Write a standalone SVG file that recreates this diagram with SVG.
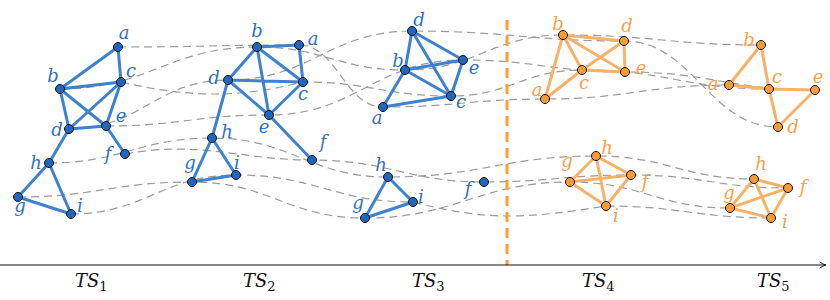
<svg xmlns="http://www.w3.org/2000/svg" width="830" height="300" viewBox="0 0 830 300">
<style>
.traj{fill:none;stroke:#9a9a9a;stroke-width:1.2;stroke-dasharray:8 5}
.be{stroke:#3d81d1;stroke-width:3;stroke-linecap:round;fill:none}
.oe{stroke:#f9b168;stroke-width:3;stroke-linecap:round;fill:none}
.bn{fill:#1f66bd;stroke:#111;stroke-width:1}
.on{fill:#f79d34;stroke:#111;stroke-width:1}
.bl{fill:#2f70c2;font-family:'DejaVu Serif',serif;font-style:italic;font-size:18px;text-anchor:middle}
.ol{fill:#f6a14a;font-family:'DejaVu Serif',serif;font-style:italic;font-size:18px;text-anchor:middle}
.ts{font-family:'DejaVu Serif',serif;font-style:italic;font-size:18px;fill:#111}
.sub{font-style:normal;font-size:13px}
</style>
<defs>
<marker id="arr" viewBox="0 0 10 10" refX="9" refY="5" markerWidth="8" markerHeight="8" orient="auto" markerUnits="userSpaceOnUse">
<path d="M1,1 Q5,4 9,5 Q5,6 1,9" fill="none" stroke="#111" stroke-width="1.2"/>
</marker>
</defs>
<g id="trajectories">
<path class="traj" d="M118,47 C199,47 218,45 299,45 C337,45 345,107 383,107 C456,107 472,99 545,99 C628,99 646,85 729,85"/>
<path class="traj" d="M60,89 C149,89 168,47 257,47 C324,47 338,70 405,70 C476,70 492,35 563,35 C652,35 672,45 761,45"/>
<path class="traj" d="M121,82 C190,98 240,98 303,82 C370,82 384,96 451,96 C510,96 523,70 582,70 C666,70 685,89 769,89"/>
<path class="traj" d="M69,129 C141,129 156,80 228,80 C311,80 329,31 412,31 C507,31 529,41 624,41 C693,41 709,127 778,127"/>
<path class="traj" d="M106,126 C179,126 196,115 269,115 C356,115 376,60 463,60 C536,60 552,72 625,72 C711,72 729,90 815,90"/>
<path class="traj" d="M125,154 C200,140 240,160 312,160 C389,160 407,182 484,182 C550,182 565,175 631,175 C702,175 717,188 788,188"/>
<path class="traj" d="M18,197 C96,197 114,182 192,182 C270,182 287,218 365,218 C457,218 478,182 570,182 C642,182 658,208 730,208"/>
<path class="traj" d="M49,163 C122,163 139,138 212,138 C291,138 309,177 388,177 C482,177 502,156 596,156 C667,156 683,179 754,179"/>
<path class="traj" d="M71,214 C145,214 162,175 236,175 C316,175 333,202 413,202 C490,222 530,218 606,206 C680,206 697,218 771,218"/>
</g>
<g id="edges">
<path class="be" d="M118,47 L60,89 M118,47 L121,82 M60,89 L121,82 M60,89 L69,129 M60,89 L106,126 M121,82 L69,129 M121,82 L106,126 M69,129 L106,126 M106,126 L125,154 M69,129 L49,163 M49,163 L18,197 M49,163 L71,214 M18,197 L71,214"/>
<path class="be" d="M257,47 L299,45 M299,45 L303,82 M257,47 L303,82 M257,47 L228,80 M257,47 L269,115 M228,80 L303,82 M228,80 L269,115 M303,82 L269,115 M269,115 L312,160 M228,80 L212,138 M212,138 L192,182 M212,138 L236,175 M192,182 L236,175"/>
<path class="be" d="M412,31 L405,70 M412,31 L463,60 M412,31 L451,96 M405,70 L463,60 M405,70 L451,96 M405,70 L383,107 M383,107 L451,96 M463,60 L451,96 M388,177 L413,202 M388,177 L365,218 M365,218 L413,202"/>
<path class="oe" d="M563,35 L624,41 M563,35 L582,70 M563,35 L625,72 M563,35 L545,99 M624,41 L582,70 M624,41 L625,72 M582,70 L625,72 M545,99 L582,70 M596,156 L570,182 M596,156 L631,175 M596,156 L606,206 M570,182 L631,175 M570,182 L606,206 M631,175 L606,206"/>
<path class="oe" d="M761,45 L729,85 M761,45 L769,89 M729,85 L769,89 M769,89 L778,127 M769,89 L815,90 M778,127 L815,90 M754,179 L730,208 M754,179 L788,188 M754,179 L771,218 M730,208 L788,188 M730,208 L771,218 M788,188 L771,218"/>
</g>
<g id="divider">
<line x1="507" y1="20" x2="507" y2="265" stroke="#f7a035" stroke-width="3" stroke-dasharray="10 6"/>
</g>
<g id="axis">
<line x1="0" y1="265" x2="826" y2="265" stroke="#111" stroke-width="1" marker-end="url(#arr)"/>
<text class="ts" x="75" y="287">TS<tspan class="sub" dy="4">1</tspan></text>
<text class="ts" x="243" y="287">TS<tspan class="sub" dy="4">2</tspan></text>
<text class="ts" x="412" y="287">TS<tspan class="sub" dy="4">3</tspan></text>
<text class="ts" x="582" y="287">TS<tspan class="sub" dy="4">4</tspan></text>
<text class="ts" x="757" y="287">TS<tspan class="sub" dy="4">5</tspan></text>
</g>
<g id="ts1-a"><circle class="bn" cx="118" cy="47" r="4.5"/><text class="bl" x="124" y="39">a</text></g>
<g id="ts1-b"><circle class="bn" cx="60" cy="89" r="4.5"/><text class="bl" x="53" y="82">b</text></g>
<g id="ts1-c"><circle class="bn" cx="121" cy="82" r="4.5"/><text class="bl" x="131" y="77">c</text></g>
<g id="ts1-d"><circle class="bn" cx="69" cy="129" r="4.5"/><text class="bl" x="57" y="136">d</text></g>
<g id="ts1-e"><circle class="bn" cx="106" cy="126" r="4.5"/><text class="bl" x="121" y="122">e</text></g>
<g id="ts1-f"><circle class="bn" cx="125" cy="154" r="4.5"/><text class="bl" x="108" y="160">f</text></g>
<g id="ts1-g"><circle class="bn" cx="18" cy="197" r="4.5"/><text class="bl" x="20" y="212">g</text></g>
<g id="ts1-h"><circle class="bn" cx="49" cy="163" r="4.5"/><text class="bl" x="36" y="169">h</text></g>
<g id="ts1-i"><circle class="bn" cx="71" cy="214" r="4.5"/><text class="bl" x="80" y="212">i</text></g>
<g id="ts2-a"><circle class="bn" cx="299" cy="45" r="4.5"/><text class="bl" x="313" y="45">a</text></g>
<g id="ts2-b"><circle class="bn" cx="257" cy="47" r="4.5"/><text class="bl" x="257" y="37">b</text></g>
<g id="ts2-c"><circle class="bn" cx="303" cy="82" r="4.5"/><text class="bl" x="303" y="100">c</text></g>
<g id="ts2-d"><circle class="bn" cx="228" cy="80" r="4.5"/><text class="bl" x="214" y="84">d</text></g>
<g id="ts2-e"><circle class="bn" cx="269" cy="115" r="4.5"/><text class="bl" x="264" y="133">e</text></g>
<g id="ts2-f"><circle class="bn" cx="312" cy="160" r="4.5"/><text class="bl" x="323" y="148">f</text></g>
<g id="ts2-g"><circle class="bn" cx="192" cy="182" r="4.5"/><text class="bl" x="190" y="169">g</text></g>
<g id="ts2-h"><circle class="bn" cx="212" cy="138" r="4.5"/><text class="bl" x="227" y="138">h</text></g>
<g id="ts2-i"><circle class="bn" cx="236" cy="175" r="4.5"/><text class="bl" x="237" y="169">i</text></g>
<g id="ts3-a"><circle class="bn" cx="383" cy="107" r="4.5"/><text class="bl" x="377" y="124">a</text></g>
<g id="ts3-b"><circle class="bn" cx="405" cy="70" r="4.5"/><text class="bl" x="398" y="67">b</text></g>
<g id="ts3-c"><circle class="bn" cx="451" cy="96" r="4.5"/><text class="bl" x="461" y="108">c</text></g>
<g id="ts3-d"><circle class="bn" cx="412" cy="31" r="4.5"/><text class="bl" x="419" y="26">d</text></g>
<g id="ts3-e"><circle class="bn" cx="463" cy="60" r="4.5"/><text class="bl" x="474" y="74">e</text></g>
<g id="ts3-f"><circle class="bn" cx="484" cy="182" r="4.5"/><text class="bl" x="468" y="195">f</text></g>
<g id="ts3-g"><circle class="bn" cx="365" cy="218" r="4.5"/><text class="bl" x="358" y="209">g</text></g>
<g id="ts3-h"><circle class="bn" cx="388" cy="177" r="4.5"/><text class="bl" x="381" y="171">h</text></g>
<g id="ts3-i"><circle class="bn" cx="413" cy="202" r="4.5"/><text class="bl" x="421" y="203">i</text></g>
<g id="ts4-a"><circle class="on" cx="545" cy="99" r="4.5"/><text class="ol" x="537" y="96">a</text></g>
<g id="ts4-b"><circle class="on" cx="563" cy="35" r="4.5"/><text class="ol" x="558" y="30">b</text></g>
<g id="ts4-c"><circle class="on" cx="582" cy="70" r="4.5"/><text class="ol" x="584" y="89">c</text></g>
<g id="ts4-d"><circle class="on" cx="624" cy="41" r="4.5"/><text class="ol" x="627" y="32">d</text></g>
<g id="ts4-e"><circle class="on" cx="625" cy="72" r="4.5"/><text class="ol" x="641" y="74">e</text></g>
<g id="ts4-f"><circle class="on" cx="631" cy="175" r="4.5"/><text class="ol" x="645" y="188">f</text></g>
<g id="ts4-g"><circle class="on" cx="570" cy="182" r="4.5"/><text class="ol" x="567" y="167">g</text></g>
<g id="ts4-h"><circle class="on" cx="596" cy="156" r="4.5"/><text class="ol" x="607" y="154">h</text></g>
<g id="ts4-i"><circle class="on" cx="606" cy="206" r="4.5"/><text class="ol" x="616" y="222">i</text></g>
<g id="ts5-a"><circle class="on" cx="729" cy="85" r="4.5"/><text class="ol" x="713" y="90">a</text></g>
<g id="ts5-b"><circle class="on" cx="761" cy="45" r="4.5"/><text class="ol" x="749" y="46">b</text></g>
<g id="ts5-c"><circle class="on" cx="769" cy="89" r="4.5"/><text class="ol" x="777" y="83">c</text></g>
<g id="ts5-d"><circle class="on" cx="778" cy="127" r="4.5"/><text class="ol" x="793" y="133">d</text></g>
<g id="ts5-e"><circle class="on" cx="815" cy="90" r="4.5"/><text class="ol" x="818" y="83">e</text></g>
<g id="ts5-f"><circle class="on" cx="788" cy="188" r="4.5"/><text class="ol" x="803" y="193">f</text></g>
<g id="ts5-g"><circle class="on" cx="730" cy="208" r="4.5"/><text class="ol" x="729" y="199">g</text></g>
<g id="ts5-h"><circle class="on" cx="754" cy="179" r="4.5"/><text class="ol" x="761" y="170">h</text></g>
<g id="ts5-i"><circle class="on" cx="771" cy="218" r="4.5"/><text class="ol" x="785" y="228">i</text></g>
</svg>
